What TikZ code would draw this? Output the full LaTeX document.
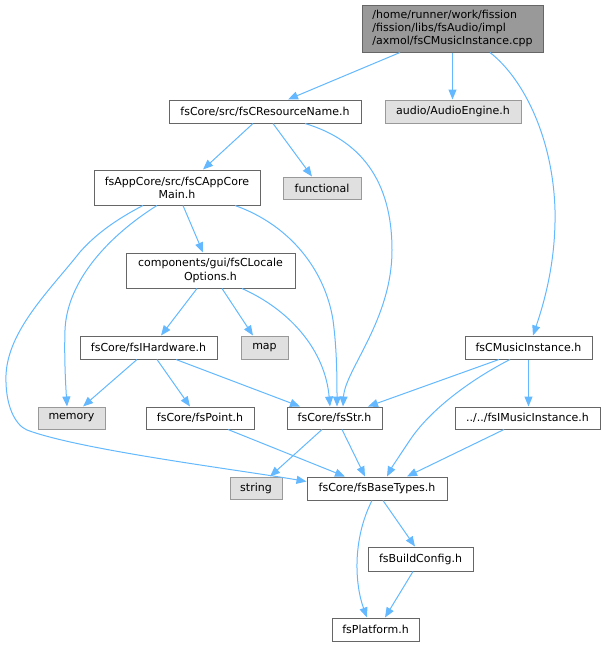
\documentclass[tikz,border=0pt]{standalone}
\usepackage{fontspec}
\setmainfont{DejaVu Sans}
\usetikzlibrary{calc,arrows.meta}
\definecolor{edgeblue}{HTML}{63B8FF}
\definecolor{bordergray}{HTML}{666666}
\definecolor{rootfill}{HTML}{999999}
\definecolor{extfill}{HTML}{E0E0E0}
\definecolor{extborder}{HTML}{999999}
\tikzset{
  fsbox/.style 2 args={draw=bordergray, fill=white, line width=0.75pt, inner sep=0pt,
    minimum width=#1*0.75pt, minimum height=#2*0.75pt,
    font=\fontsize{8.25pt}{9.9pt}\selectfont, align=center},
  extbox/.style 2 args={fsbox={#1}{#2}, draw=extborder, fill=extfill},
  rootbox/.style 2 args={fsbox={#1}{#2}, fill=rootfill, align=left},
  dep/.style={draw=edgeblue, line width=0.75pt, -{Triangle[length=7.5pt,width=6pt]}}
}
\begin{document}
\begin{tikzpicture}[x=0.75pt,y=-0.75pt]
\useasboundingbox (0,0) rectangle (606,647);
% nodes
\node[rootbox={181}{47}] (root) at (452.5,28.5) {/home/runner/work/fission\\/fission/libs/fsAudio/impl\\/axmol/fsCMusicInstance.cpp};
\node[fsbox={192}{23}] (rn) at (265,111.5) {fsCore/src/fsCResourceName.h};
\node[extbox={136}{23}] (ae) at (453,111.5) {audio/AudioEngine.h};
\node[fsbox={166}{35}] (acm) at (177,187.5) {fsAppCore/src/fsCAppCore\\Main.h};
\node[extbox={78}{22}] (fun) at (322,188) {functional};
\node[fsbox={169}{35}] (lo) at (210.5,270.5) {components/gui/fsCLocale\\Options.h};
\node[fsbox={137}{23}] (hw) at (148.5,347.5) {fsCore/fsIHardware.h};
\node[extbox={47}{23}] (map) at (264.5,347.5) {map};
\node[fsbox={127}{23}] (cmi) at (528.5,347.5) {fsCMusicInstance.h};
\node[extbox={67}{22}] (mem) at (71.5,418) {memory};
\node[fsbox={108}{22}] (pt) at (200,418) {fsCore/fsPoint.h};
\node[fsbox={95}{22}] (str) at (334.5,418) {fsCore/fsStr.h};
\node[fsbox={145}{22}] (imi) at (527.5,418) {../../fsIMusicInstance.h};
\node[extbox={52}{22}] (strg) at (256,488) {string};
\node[fsbox={140}{23}] (bt) at (377,488.5) {fsCore/fsBaseTypes.h};
\node[fsbox={105}{24}] (bc) at (420.5,559) {fsBuildConfig.h};
\node[fsbox={87}{23}] (pf) at (375.5,629.5) {fsPlatform.h};
% edges
\draw[dep] ($(root.south)+(-52.5,0)$) -- ($(rn.north)+(23,0)$);
\draw[dep] (root.south) -- (root.south |- ae.north);
\draw[dep] ($(root.south)+(37.5,0)$) .. controls (525,80) and (553,140) .. (555,210)
   .. controls (556,260) and (545,300) .. ($(cmi.north)+(4.5,0)$);
\draw[dep] ($(rn.south)+(-12,0)$) -- ($(acm.north)+(26,0)$);
\draw[dep] ($(rn.south)+(8,0)$) -- ($(fun.north)+(-10,0)$);
\draw[dep] ($(rn.south)+(40,0)$) .. controls (360,140) and (392,180) .. (392,250)
   .. controls (392,320) and (345,370) .. ($(str.north)+(8.5,0)$);
\draw[dep] ($(acm.south)+(-20,0)$) .. controls (110,235) and (67,280) .. (65,330)
   .. controls (64,360) and (66,390) .. ($(mem.north)+(-4.5,0)$);
\draw[dep] ($(acm.south)+(-34,0)$) .. controls (115,220) and (95,235) .. (80,252)
   .. controls (50,290) and (8,330) .. (6,375)
   .. controls (5,405) and (15,425) .. (27,430)
   .. controls (80,450) and (240,470) .. ($(bt.west)+(0,-7)$);
\draw[dep] ($(acm.south)+(6,0)$) -- ($(lo.north)+(-7.5,0)$);
\draw[dep] ($(acm.south)+(58,0)$) .. controls (290,225) and (325,270) .. (333,320)
   .. controls (337,350) and (337,380) .. ($(str.north)+(2.5,0)$);
\draw[dep] ($(lo.south)+(-13.5,0)$) -- ($(hw.north)+(12.5,0)$);
\draw[dep] ($(lo.south)+(11.5,0)$) -- ($(map.north)+(-11.5,0)$);
\draw[dep] ($(lo.south)+(31.5,0)$) .. controls (290,310) and (325,350) .. ($(str.north)+(-4.5,0)$);
\draw[dep] ($(hw.south)+(-11.5,0)$) -- ($(mem.north)+(11.5,0)$);
\draw[dep] ($(hw.south)+(8.5,0)$) -- ($(pt.north)+(-10,0)$);
\draw[dep] ($(hw.south)+(27.5,0)$) -- ($(str.north)+(-34.5,0)$);
\draw[dep] ($(cmi.south)+(-29.5,0)$) -- ($(str.north)+(33.5,0)$);
\draw[dep] ($(cmi.south)+(-18.5,0)$) .. controls (470,380) and (430,410) .. (410,440)
   .. controls (400,455) and (392,467) .. ($(bt.north)+(10,0)$);
\draw[dep] (cmi.south) -- (cmi.south |- imi.north);
\draw[dep] ($(str.south)+(-12.5,0)$) -- ($(strg.north)+(14,0)$);
\draw[dep] ($(str.south)+(7.5,0)$) -- ($(bt.north)+(-12,0)$);
\draw[dep] ($(pt.south)+(28,0)$) -- ($(bt.north)+(-32,0)$);
\draw[dep] ($(imi.south)+(-23.5,0)$) -- ($(bt.north)+(30,0)$);
\draw[dep] ($(bt.south)+(6,0)$) -- ($(bc.north)+(-5.5,0)$);
\draw[dep] ($(bt.south)+(-5,0)$) .. controls (352,540) and (355,585) .. ($(pf.north)+(-8.5,0)$);
\draw[dep] ($(bc.south)+(-7.5,0)$) -- ($(pf.north)+(9.5,0)$);
\end{tikzpicture}
\end{document}
